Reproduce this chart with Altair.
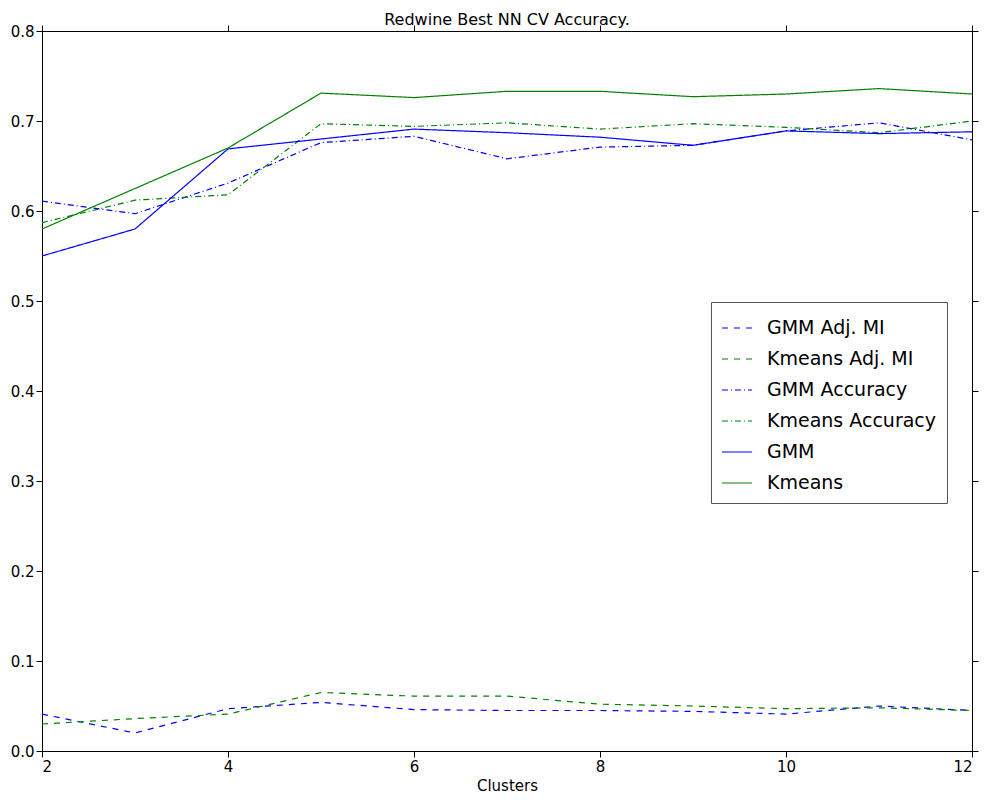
import pandas as pd
import altair as alt

clusters = [2, 3, 4, 5, 6, 7, 8, 9, 10, 11, 12]

gmm_adj_mi = [0.041, 0.020, 0.047, 0.054, 0.046, 0.045, 0.045, 0.044, 0.041, 0.050, 0.045]
kmeans_adj_mi = [0.030, 0.036, 0.041, 0.065, 0.061, 0.061, 0.052, 0.050, 0.047, 0.048, 0.045]
gmm_acc = [0.611, 0.597, 0.631, 0.676, 0.683, 0.658, 0.671, 0.673, 0.689, 0.698, 0.679]
kmeans_acc = [0.587, 0.612, 0.618, 0.697, 0.694, 0.698, 0.691, 0.697, 0.693, 0.687, 0.700]
gmm = [0.550, 0.580, 0.669, 0.680, 0.691, 0.687, 0.682, 0.673, 0.689, 0.686, 0.688]
kmeans = [0.580, 0.625, 0.670, 0.731, 0.726, 0.733, 0.733, 0.727, 0.730, 0.736, 0.730]

series = {
    "GMM Adj. MI": gmm_adj_mi,
    "Kmeans Adj. MI": kmeans_adj_mi,
    "GMM Accuracy": gmm_acc,
    "Kmeans Accuracy": kmeans_acc,
    "GMM": gmm,
    "Kmeans": kmeans,
}
names = list(series)
colors = ["#0000ff", "#008000"] * 3
dashes = [[6, 6], [6, 6], [6, 3, 1, 3], [6, 3, 1, 3], [1, 0], [1, 0]]

rows = []
for name, vals in series.items():
    for c, v in zip(clusters, vals):
        rows.append({"clusters": c, "value": v, "series": name})
df = pd.DataFrame(rows)

axis_style = dict(labelFontSize=15, titleFontSize=15, titleFontWeight="normal",
                  labelColor="black", titleColor="black", domainColor="black",
                  tickColor="black", grid=False, tickSize=6, labelFont="DejaVu Sans",
                  titleFont="DejaVu Sans")

xs = alt.Scale(domain=[2, 12], nice=False)
ys = alt.Scale(domain=[0, 0.8], nice=False)

lines = alt.Chart(df).mark_line(strokeWidth=1.2, clip=True).encode(
    x=alt.X("clusters:Q", scale=xs, title="Clusters",
            axis=alt.Axis(values=[2, 4, 6, 8, 10, 12], titlePadding=4, **axis_style)),
    y=alt.Y("value:Q", scale=ys, title=None,
            axis=alt.Axis(values=[i / 10 for i in range(9)], format=".1f", **axis_style)),
    color=alt.Color("series:N", scale=alt.Scale(domain=names, range=colors),
                    legend=alt.Legend(title=None, orient="none", legendX=669, legendY=271,
                                      symbolType="stroke", symbolSize=900, symbolStrokeWidth=1.2,
                                      labelFontSize=19, labelFont="DejaVu Sans", labelColor="black",
                                      strokeColor="#555555", fillColor="white", padding=10,
                                      rowPadding=5, labelLimit=300, labelOffset=14)),
    strokeDash=alt.StrokeDash("series:N", scale=alt.Scale(domain=names, range=dashes), legend=None),
)

mirror = alt.Chart(df).mark_line(opacity=0).encode(
    x=alt.X("clusters:Q", scale=xs, title=None,
            axis=alt.Axis(orient="top", labels=False, values=[2, 4, 6, 8, 10, 12], **axis_style)),
    y=alt.Y("value:Q", scale=ys, title=None,
            axis=alt.Axis(orient="right", labels=False, values=[i / 10 for i in range(9)], **axis_style)),
)

chart = alt.layer(lines, mirror).resolve_axis(x="independent", y="independent").properties(
    width=930, height=720,
    autosize=alt.AutoSizeParams(type="none"),
    padding={"left": 34, "top": 23, "right": 10, "bottom": 50},
    title=alt.Title("Redwine Best NN CV Accuracy.", fontSize=16, fontWeight="normal",
                    font="DejaVu Sans", color="black", offset=-4),
).configure_view(stroke="black", strokeWidth=1)

chart.save("out.html", embed_options={"renderer": "svg", "actions": False})
